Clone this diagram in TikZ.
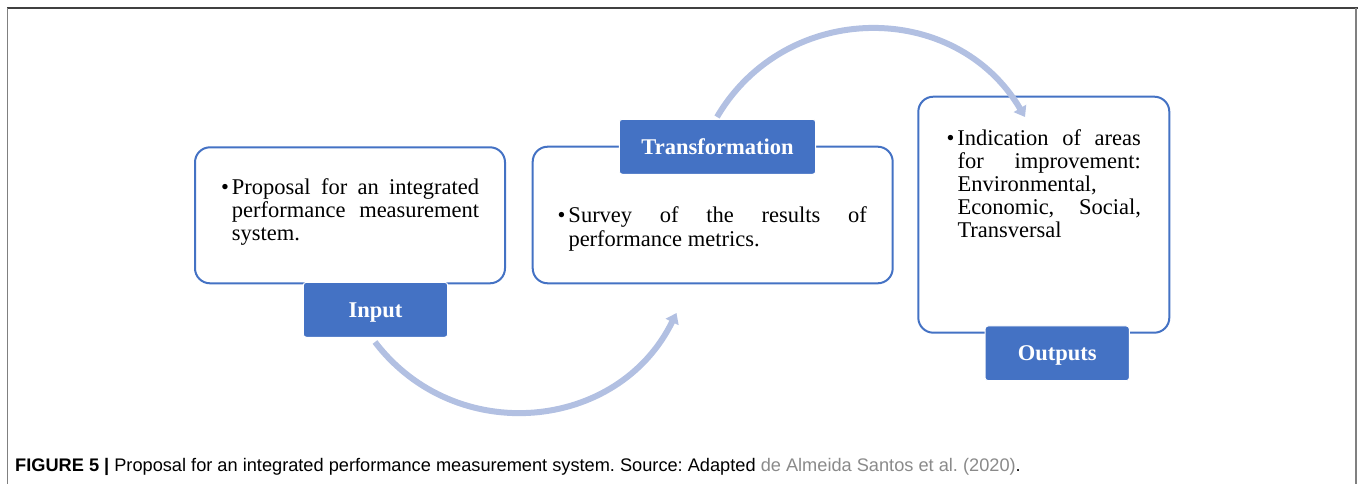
\documentclass[tikz,border=0pt]{standalone}
\usepackage{fontspec}
\setmainfont{Liberation Serif}
\newfontfamily\capfont{Liberation Sans}
\usetikzlibrary{arrows.meta}
\definecolor{blu}{HTML}{4472C4}
\definecolor{arr}{RGB}{178,192,226}
\definecolor{frametop}{HTML}{404040}
\definecolor{frameside}{HTML}{808080}
\definecolor{capgray}{HTML}{8A8A8A}
\tikzset{
  box/.style={draw=blu, line width=2pt, rounded corners=15pt, fill=white, inner sep=0pt},
  lab/.style={fill=blu, draw=white, line width=1pt, rounded corners=3pt, inner sep=0pt,
    text=white, font=\fontsize{22.5}{24}\selectfont\bfseries, text height=14.9pt, text depth=0pt},
  body/.style={anchor=north west, inner sep=0pt, align=justify,
    font=\fontsize{22.5}{23.2}\selectfont},
  flow/.style={draw=arr, line width=6pt, -{Triangle[width=14pt,length=10pt]}},
  frame/.style={line width=1.5pt}
}
\newcommand{\bul}{\leavevmode\tolerance=10000 \hbadness=10000 \hyphenpenalty=10000 \llap{\textbullet\kern3pt}}
\begin{document}
\begin{tikzpicture}[x=1pt,y=-1pt]
\useasboundingbox (0,0) rectangle (1358,484);
% frame
\draw[frame, draw=frametop] (7,8) -- (1358,8);
\draw[frame, draw=frameside] (7.5,8) -- (7.5,484);
\draw[frame, draw=frameside] (1356,8) -- (1356,484);
% boxes
\node[box, minimum width=310pt, minimum height=136pt] (inbox) at (350,215.3) {};
\node[box, minimum width=360pt, minimum height=136.6pt] (trbox) at (712.7,215) {};
\node[box, minimum width=251pt, minimum height=236pt] (outbox) at (1043.8,214.7) {};
% labels
\node[lab, minimum width=144.4pt, minimum height=55pt] (inlab) at (375.5,309.8) {Input};
\node[lab, minimum width=196.4pt, minimum height=55pt] (trlab) at (717.5,146.8) {Transformation};
\node[lab, minimum width=144.3pt, minimum height=54.7pt] (outlab) at (1057.2,353.3) {Outputs};
% texts
\node[body, text width=247.3pt] (intext) at (231.7,178.5)
  {\bul Proposal for an integrated\linebreak performance measurement\linebreak system.};
\node[body, text width=298.4pt] (trtext) at (568.3,206.8)
  {\bul Survey of the results of\linebreak performance metrics.};
\node[body, text width=183.4pt] (outtext) at (957.3,129)
  {\bul Indication of areas\linebreak for improvement:\linebreak Environmental,\linebreak Economic, Social,\linebreak Transversal};
% arrows
\coordinate (a1s) at (375,342);
\coordinate (a1e) at (676.5,313);
\coordinate (a2s) at (717,117);
\coordinate (a2e) at (1025,117);
\draw[flow] (a1s) .. controls (455.1,447.1) and (618.2,432) .. (a1e);
\draw[flow] (a2s) .. controls (786.1,-0.4) and (955.9,-0.4) .. (a2e);
% caption
\node[anchor=base west, inner sep=0pt, font=\capfont\fontsize{18.2}{21}\selectfont] (cap) at (15,471.7)
  {\frenchspacing\textbf{FIGURE 5 |} Proposal for an integrated performance measurement system. Source: Adapted \textcolor{capgray}{de Almeida Santos et al. (2020)}.};
\end{tikzpicture}
\end{document}
